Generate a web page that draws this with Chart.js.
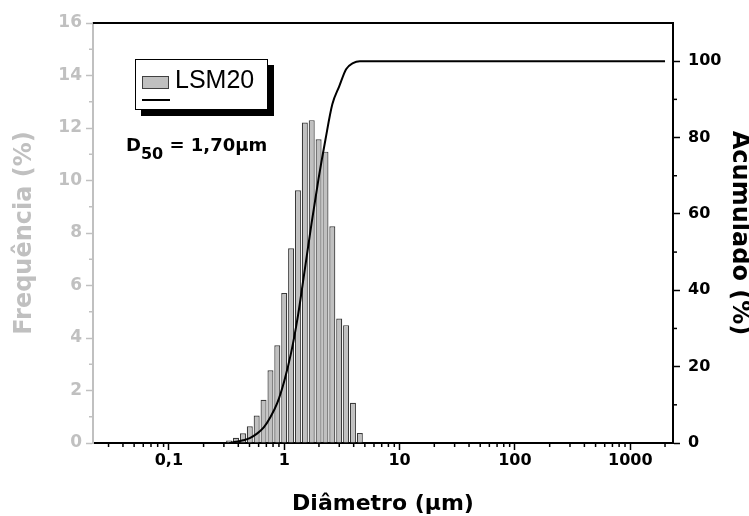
<!DOCTYPE html>
<html>
<head>
<meta charset="utf-8">
<title>LSM20 - distribuição granulométrica</title>
<script src="https://cdn.jsdelivr.net/npm/chart.js@4"></script>
<style>
  body { margin: 0; background: #fff; }
  #wrap { width: 749px; height: 516px; position: relative; }
</style>
</head>
<body>
<div id="wrap"><canvas id="chart"></canvas></div>
<script>
// particle size classes (um) and frequency of each class (%)
const diameters = [0.333, 0.382, 0.439, 0.503, 0.577, 0.662, 0.760, 0.871, 1.000, 1.147,
                   1.315, 1.509, 1.731, 1.986, 2.278, 2.612, 2.997, 3.438, 3.943, 4.523];
const frequency = [0.10, 0.20, 0.37, 0.64, 1.05, 1.65, 2.77, 3.72, 5.71, 7.42,
                   9.63, 12.21, 12.30, 11.57, 11.10, 8.26, 4.74, 4.49, 1.53, 0.38];

// cumulative curve (%)
const cumDiameters = [0.333, 0.382, 0.439, 0.503, 0.577, 0.662, 0.760, 0.871, 1.000, 1.147,
                      1.315, 1.509, 1.731, 1.986, 2.278, 2.612, 2.997, 3.438, 3.943, 4.523, 2000];
const cumulative = [0.0, 0.3, 0.7, 1.3, 2.4, 4.0, 6.8, 10.5, 16.2, 23.6,
                    33.3, 45.5, 57.8, 69.3, 79.5, 88.7, 93.4, 97.9, 99.5, 100, 100];

// axes
const xTicks = [0.1, 1, 10, 100, 1000];
const xMinor = [0.03, 0.04, 0.05, 0.06, 0.07, 0.08, 0.09,
                0.2, 0.3, 0.4, 0.5, 0.6, 0.7, 0.8, 0.9,
                2, 3, 4, 5, 6, 7, 8, 9,
                20, 30, 40, 50, 60, 70, 80, 90,
                200, 300, 400, 500, 600, 700, 800, 900, 2000];
const freqTicks = [0, 2, 4, 6, 8, 10, 12, 14, 16];
const freqMinor = [1, 3, 5, 7, 9, 11, 13, 15];
const cumTicks = [0, 20, 40, 60, 80, 100];
const cumMinor = [10, 30, 50, 70, 90];

const GRAY = '#c0c0c0';
const FONT = "'DejaVu Sans', sans-serif";
const LEGEND_FONT = "'Liberation Sans', Arial, sans-serif";

function fixTicks(values) {
    return scale => { scale.ticks = values.map(v => ({ value: v })); };
}

const extras = {
    id: 'extras',
    afterDraw(chart) {
        const { ctx, chartArea: a, scales } = chart;
        const seg = (x1, y1, x2, y2) => { ctx.beginPath(); ctx.moveTo(x1, y1); ctx.lineTo(x2, y2); ctx.stroke(); };
        ctx.save();

        // top frame
        ctx.strokeStyle = '#000';
        ctx.lineWidth = 2;
        seg(a.left, a.top, a.right + 1, a.top);

        // minor ticks
        ctx.lineWidth = 1.5;
        ctx.strokeStyle = GRAY;
        freqMinor.forEach(v => { const y = scales.y.getPixelForValue(v); seg(a.left - 4, y, a.left, y); });
        ctx.strokeStyle = '#000';
        cumMinor.forEach(v => { const y = scales.y2.getPixelForValue(v); seg(a.right, y, a.right + 4, y); });
        xMinor.forEach(v => { const x = scales.x.getPixelForValue(v); seg(x, a.bottom, x, a.bottom + 4); });

        // legend box with shadow
        ctx.fillStyle = '#000';
        ctx.fillRect(141, 65, 133, 51);
        ctx.fillStyle = '#fff';
        ctx.fillRect(135, 59, 133, 51);
        ctx.lineWidth = 1;
        ctx.strokeRect(135.5, 59.5, 132, 50);
        ctx.fillStyle = GRAY;
        ctx.fillRect(142, 76, 27, 13);
        ctx.strokeStyle = '#404040';
        ctx.strokeRect(142.5, 76.5, 26, 12);
        ctx.strokeStyle = '#000';
        ctx.lineWidth = 2;
        seg(142, 100, 170, 100);
        ctx.fillStyle = '#000';
        ctx.font = '25px ' + LEGEND_FONT;
        ctx.textBaseline = 'alphabetic';
        ctx.fillText('LSM20', 175, 88);

        // D50 annotation
        ctx.font = 'bold 18px ' + FONT;
        ctx.fillText('D', 126, 151);
        let x = 126 + ctx.measureText('D').width;
        ctx.font = 'bold 16px ' + FONT;
        ctx.fillText('50', x, 159);
        x += ctx.measureText('50').width;
        ctx.font = 'bold 18px ' + FONT;
        ctx.fillText(' = 1,70\u03bcm', x, 151);

        ctx.restore();
    }
};

new Chart(document.getElementById('chart'), {
    type: 'bar',
    data: {
        datasets: [{
            type: 'line',
            label: 'Acumulado',
            data: cumDiameters.map((d, i) => ({ x: d, y: cumulative[i] })),
            yAxisID: 'y2',
            borderColor: '#000',
            borderWidth: 2,
            pointRadius: 0,
            cubicInterpolationMode: 'monotone',
            order: 1
        }, {
            type: 'bar',
            label: 'LSM20',
            data: diameters.map((d, i) => ({ x: d, y: frequency[i] })),
            yAxisID: 'y',
            backgroundColor: GRAY,
            borderColor: '#3a3a3a',
            borderWidth: 1.2,
            categoryPercentage: 1,
            barPercentage: 0.88,
            order: 2
        }]
    },
    options: {
        responsive: true,
        maintainAspectRatio: false,
        animation: false,
        layout: { padding: { top: 23, left: 0, right: 0, bottom: 0 } },
        plugins: { legend: { display: false }, tooltip: { enabled: false } },
        scales: {
            x: {
                type: 'logarithmic',
                min: 0.022,
                max: 2345,
                offset: false,
                afterBuildTicks: fixTicks(xTicks),
                afterFit: s => { s.height = 73; },
                grid: { drawOnChartArea: false, offset: false, tickLength: 7, tickWidth: 1.5, tickColor: '#000' },
                border: { color: '#000', width: 2 },
                ticks: {
                    autoSkip: false, maxRotation: 0, padding: 1, color: '#000',
                    font: { family: FONT, size: 16, weight: 'bold' },
                    callback: v => String(v).replace('.', ',')
                },
                title: {
                    display: true, text: 'Diâmetro (\u03bcm)', color: '#000',
                    font: { family: FONT, size: 22, weight: 'bold', lineHeight: 1 },
                    padding: { top: 0, bottom: 1 }
                }
            },
            y: {
                position: 'left',
                min: 0,
                max: 16,
                afterBuildTicks: fixTicks(freqTicks),
                afterFit: s => { s.width = 93; },
                grid: { drawOnChartArea: false, tickLength: 7, tickWidth: 1.5, tickColor: GRAY },
                border: { color: GRAY, width: 2 },
                ticks: { color: GRAY, padding: 4, font: { family: FONT, size: 17, weight: 'bold' } },
                title: {
                    display: true, text: 'Frequência (%)', color: GRAY,
                    font: { family: FONT, size: 24, weight: 'bold', lineHeight: 1 },
                    padding: { top: 13, bottom: 0 }
                }
            },
            y2: {
                position: 'right',
                min: 0,
                max: 110,
                afterBuildTicks: fixTicks(cumTicks),
                afterFit: s => { s.width = 76; },
                grid: { drawOnChartArea: false, tickLength: 7, tickWidth: 1.5, tickColor: '#000' },
                border: { color: '#000', width: 2 },
                ticks: { color: '#000', padding: 8, font: { family: FONT, size: 16, weight: 'bold' } },
                title: {
                    display: true, text: 'Acumulado (%)', color: '#000',
                    font: { family: FONT, size: 24, weight: 'bold', lineHeight: 1 },
                    padding: { top: -2, bottom: 0 }
                }
            }
        }
    },
    plugins: [extras]
});
</script>
</body>
</html>
